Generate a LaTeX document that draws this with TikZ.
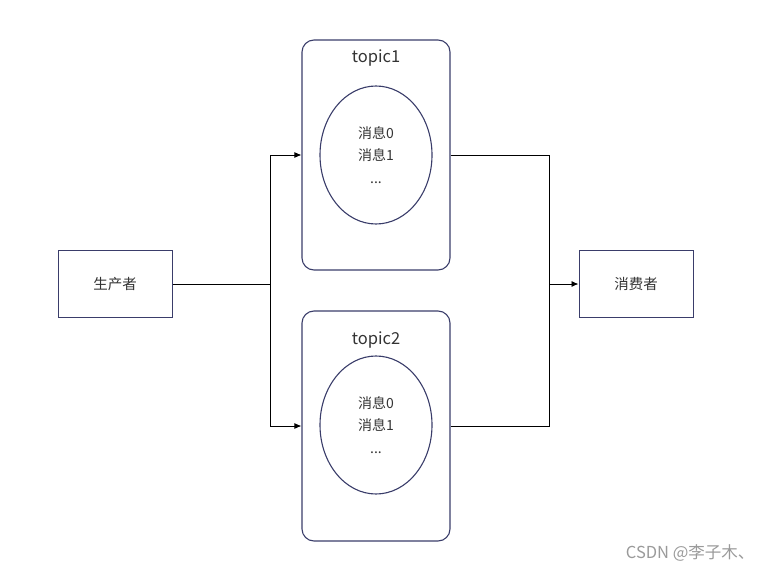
\documentclass[tikz,border=0pt]{standalone}
\usepackage{fontspec}
\setmainfont{Noto Sans CJK SC}
\usetikzlibrary{shapes.geometric,arrows.meta}
\definecolor{boxline}{HTML}{3A3D6A}
\definecolor{txt}{HTML}{333333}
\definecolor{wm}{HTML}{9A9A9A}
\begin{document}
\begin{tikzpicture}[x=1pt,y=-1pt,
  topicbox/.style={draw=boxline,line width=1.1pt,rounded corners=12pt,minimum width=148pt,minimum height=230pt,inner sep=0pt},
  msgell/.style={draw=boxline,line width=1.1pt,ellipse,minimum width=112pt,minimum height=138pt,inner sep=0pt,align=center,font=\fontsize{14}{22.5}\selectfont,text=txt},
  titletxt/.style={font=\fontsize{16.5}{20}\selectfont,text=txt,inner sep=0pt},
  rolebox/.style={draw=boxline,line width=1pt,minimum width=114pt,minimum height=67pt,inner sep=0pt,font=\fontsize{14.5}{17}\selectfont,text=txt},
  conn/.style={line width=0.9pt,black},
  arr/.style={conn,-{Latex[length=7pt,width=6pt]}}]
\useasboundingbox (0,0) rectangle (762,572);
\node[topicbox] (t1) at (376,155) {};
\node[titletxt] (t1title) at (376,58) {topic1};
\node[msgell] (e1) at (376,155) {消息0\\消息1\\...};
\node[topicbox] (t2) at (376,426) {};
\node[titletxt] (t2title) at (376,340) {topic2};
\node[msgell] (e2) at (376,425) {消息0\\消息1\\...};
\node[rolebox] (p) at (115,284) {生产者};
\node[rolebox] (c) at (636,284) {消费者};
\coordinate (j1) at (270,284);
\coordinate (j2) at (549,284);
\draw[conn] (p.east) -- (j1);
\draw[arr] (j1) |- (t1.west);
\draw[arr] (j1) |- (t2.west);
\draw[conn] (t1.east) -| (j2);
\draw[conn] (t2.east) -| (j2);
\draw[arr] (j2) -- (c.west);
\node[font=\fontsize{16.5}{19}\selectfont,text=wm,anchor=east] (wmk) at (758,553) {CSDN @李子木、};
\end{tikzpicture}
\end{document}
